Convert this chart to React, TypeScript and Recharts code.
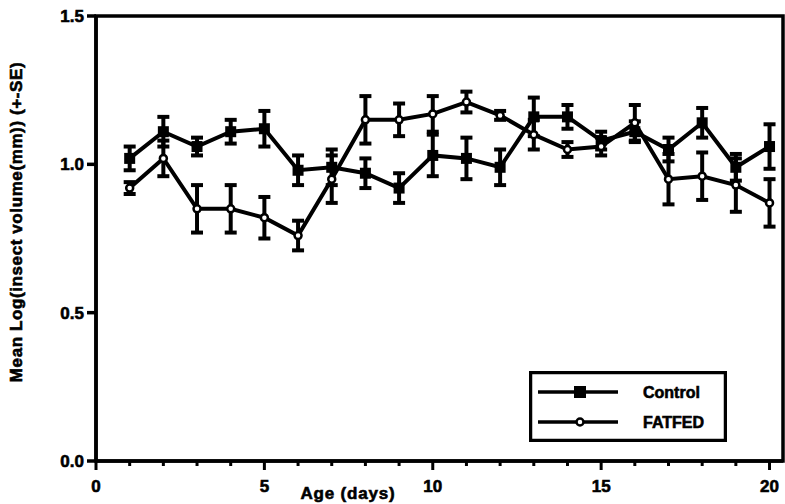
import { LineChart, Line, XAxis, YAxis, ErrorBar, ReferenceArea, Legend } from 'recharts';

// Age in days
const days = [1, 2, 3, 4, 5, 6, 7, 8, 9, 10, 11, 12, 13, 14, 15, 16, 17, 18, 19, 20];

// Mean log(insect volume) and standard errors per group
const controlMean = [1.02, 1.11, 1.06, 1.11, 1.12, 0.98, 0.99, 0.97, 0.92, 1.03, 1.02, 0.99, 1.16, 1.16, 1.08, 1.11, 1.05, 1.14, 0.99, 1.06];
const controlSe = [0.04, 0.05, 0.03, 0.04, 0.06, 0.05, 0.06, 0.05, 0.05, 0.07, 0.07, 0.06, 0.065, 0.04, 0.03, 0.035, 0.04, 0.05, 0.045, 0.075];
const fatfedMean = [0.92, 1.02, 0.85, 0.85, 0.82, 0.76, 0.95, 1.15, 1.15, 1.17, 1.21, 1.165, 1.1, 1.05, 1.06, 1.14, 0.95, 0.96, 0.93, 0.87];
const fatfedSe = [0.02, 0.06, 0.08, 0.08, 0.07, 0.05, 0.08, 0.08, 0.055, 0.06, 0.035, 0.015, 0.05, 0.025, 0.03, 0.06, 0.085, 0.08, 0.09, 0.08];

const xTicks = [0, 1, 2, 3, 4, 5, 6, 7, 8, 9, 10, 11, 12, 13, 14, 15, 16, 17, 18, 19, 20];
const yTicks = [0, 0.5, 1.0, 1.5];

const data = days.map((day, i) => ({
  day,
  control: controlMean[i],
  controlSe: controlSe[i],
  fatfed: fatfedMean[i],
  fatfedSe: fatfedSe[i],
}));

const FONT = '"Liberation Sans", Arial, sans-serif';
const X_MAX = 20.4;

// heavy lettering: bold face plus a thin outline
const heavy = { fontFamily: FONT, fontWeight: 'bold', fill: '#000', stroke: '#000', strokeWidth: 0.6 };

const SquareDot = (props: any) => {
  const { cx, cy, index } = props;
  return <rect key={`sq-${index}`} x={cx - 5.5} y={cy - 5.5} width={11} height={11} fill="#000" />;
};

const CircleDot = (props: any) => {
  const { cx, cy, index } = props;
  return <circle key={`ci-${index}`} cx={cx} cy={cy} r={3.5} fill="#fff" stroke="#000" strokeWidth={2.5} />;
};

// every day gets a tick, multiples of 5 get a longer one plus a label
const DayTick = (props: any) => {
  const { x, y, payload } = props;
  const major = payload.value % 5 === 0;
  return (
    <g>
      <line x1={x} y1={y} x2={x} y2={y + (major ? 9 : 5)} stroke="#000" strokeWidth={3} />
      {major && (
        <text x={x} y={y + 31} textAnchor="middle" fontSize={17} {...heavy}>
          {payload.value}
        </text>
      )}
    </g>
  );
};

const renderLegend = () => (
  <svg width={198} height={71} style={{ display: 'block' }}>
    <rect x={1.5} y={1.5} width={195} height={68} fill="#fff" stroke="#000" strokeWidth={3.5} />
    <line x1={9} y1={21} x2={89} y2={21} stroke="#000" strokeWidth={3.5} />
    <rect x={45} y={15} width={12} height={12} fill="#000" />
    <text x={114} y={27} fontSize={16} {...heavy}>Control</text>
    <line x1={9} y1={51} x2={89} y2={51} stroke="#000" strokeWidth={3.5} />
    <circle cx={51} cy={51} r={3.5} fill="#fff" stroke="#000" strokeWidth={2.5} />
    <text x={114} y={57} fontSize={16} {...heavy}>FATFED</text>
  </svg>
);

export default function App() {
  return (
    <div style={{ position: 'absolute', left: 0, top: 0, width: 785, height: 504, background: '#fff' }}>
      <LineChart width={785} height={504} data={data} margin={{ top: 16, right: 2, bottom: 0, left: 0 }}>
        <ReferenceArea x1={0} x2={X_MAX} y1={0} y2={1.5} fill="none" stroke="#000" strokeWidth={3.5} ifOverflow="visible" />
        <XAxis
          dataKey="day"
          type="number"
          domain={[0, X_MAX]}
          ticks={xTicks}
          interval={0}
          height={43}
          tickSize={0}
          tickMargin={0}
          tickLine={false}
          axisLine={{ stroke: '#000', strokeWidth: 3.5 }}
          tick={<DayTick />}
          label={{
            content: () => (
              <text x={348} y={499} textAnchor="middle" fontSize={17} letterSpacing={0.8} {...heavy}>
                Age (days)
              </text>
            ),
          }}
        />
        <YAxis
          type="number"
          domain={[0, 1.5]}
          ticks={yTicks}
          width={96}
          tickSize={9}
          tickMargin={3}
          tickLine={{ stroke: '#000', strokeWidth: 3.5 }}
          axisLine={{ stroke: '#000', strokeWidth: 3.5 }}
          tickFormatter={(v: number) => v.toFixed(1)}
          tick={{ ...heavy, fontSize: 17 }}
          label={{
            content: () => (
              <text
                x={18}
                y={222}
                transform="rotate(-90 18 222)"
                textAnchor="middle"
                dominantBaseline="middle"
                fontSize={17}
                letterSpacing={0.6}
                {...heavy}
              >
                Mean Log(insect volume(mm)) (+-SE)
              </text>
            ),
          }}
        />
        <Legend
          layout="vertical"
          align="center"
          verticalAlign="middle"
          content={renderLegend}
          wrapperStyle={{ left: 529, top: 371, width: 198, height: 71 }}
        />
        <Line
          dataKey="control"
          name="Control"
          stroke="#000"
          strokeWidth={4}
          dot={<SquareDot />}
          isAnimationActive={false}
        >
          <ErrorBar dataKey="controlSe" width={6} stroke="#000" strokeWidth={4} direction="y" />
        </Line>
        <Line
          dataKey="fatfed"
          name="FATFED"
          stroke="#000"
          strokeWidth={4}
          dot={<CircleDot />}
          isAnimationActive={false}
        >
          <ErrorBar dataKey="fatfedSe" width={6} stroke="#000" strokeWidth={4} direction="y" />
        </Line>
      </LineChart>
    </div>
  );
}
